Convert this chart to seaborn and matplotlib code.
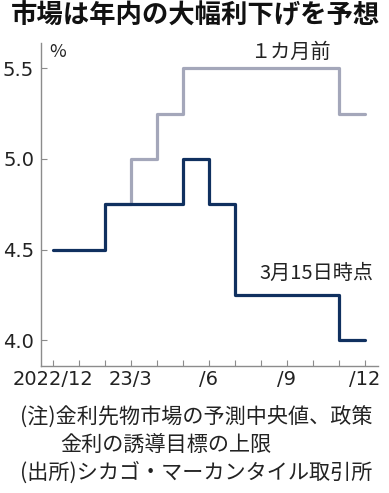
import matplotlib
matplotlib.use("Agg")
import matplotlib.pyplot as plt
import seaborn as sns

# monthly positions, Dec 2022 .. Dec 2023
month_idx = list(range(13))
month_labels = ["2022/12", "", "", "23/3", "", "", "/6", "", "", "/9", "", "", "/12"]

# expected policy rate upper bound (%), step values holding until next month
current_x = list(range(13))
current_rate = [4.5, 4.5, 4.75, 4.75, 4.75, 5.0, 4.75, 4.25, 4.25, 4.25, 4.25, 4.0, 4.0]
month_ago_x = list(range(2, 13))
month_ago_rate = [4.75, 5.0, 5.25, 5.5, 5.5, 5.5, 5.5, 5.5, 5.5, 5.25, 5.25]

y_ticks = [4.0, 4.5, 5.0, 5.5]
y_tick_labels = ["4.0", "4.5", "5.0", "5.5"]

NAVY = "#10305f"
GREY = "#a4a7ba"
AXIS = "#8c8c8c"
W, H = 389, 493

sns.set_style("ticks")
plt.rcParams["font.family"] = ["Noto Sans CJK JP", "DejaVu Sans"]

fig = plt.figure(figsize=(W / 100, H / 100), dpi=100)
ax = fig.add_axes([41 / W, 1 - 366 / H, (378 - 41) / W, (366 - 43) / H])

sns.lineplot(x=month_ago_x, y=month_ago_rate, drawstyle="steps-post", color=GREY, linewidth=2.3, ax=ax)
sns.lineplot(x=current_x, y=current_rate, drawstyle="steps-post", color=NAVY, linewidth=2.3, ax=ax)

ax.set_xlim(-0.46, 12.5)
ax.set_ylim(3.857, 5.64)
ax.set_xticks(month_idx)
ax.set_xticklabels(month_labels)
ax.set_yticks(y_ticks)
ax.set_yticklabels(y_tick_labels)
ax.set_xlabel("")
ax.set_ylabel("")

for side in ["top", "right"]:
    ax.spines[side].set_visible(False)
for side in ["left", "bottom"]:
    ax.spines[side].set_color(AXIS)
    ax.spines[side].set_linewidth(1.0)
ax.tick_params(direction="in", length=4, width=0.8, color=AXIS, labelsize=14, labelcolor="#222222", pad=3)
ax.tick_params(axis="y", pad=5)
for lbl in ax.get_xticklabels() + ax.get_yticklabels():
    lbl.set_fontfamily(["Liberation Sans Narrow", "DejaVu Sans"])

fig.text(196 / W, 1 - 16 / H, "市場は年内の大幅利下げを予想", ha="center", va="center",
         fontsize=19, fontweight="bold", color="#111111")
fig.text(49 / W, 1 - 52 / H, "%", ha="left", va="center", fontsize=13, color="#222222")
fig.text(290 / W, 1 - 52 / H, "１カ月前", ha="center", va="center", fontsize=14.5, color="#222222")
fig.text(316 / W, 1 - 273 / H, "3月15日時点", ha="center", va="center", fontsize=14.5, color="#222222")

fig.text(20 / W, 1 - 418 / H, "(注)金利先物市場の予測中央値、政策", ha="left", va="center", fontsize=15.2, color="#222222")
fig.text(60 / W, 1 - 445 / H, "金利の誘導目標の上限", ha="left", va="center", fontsize=15.2, color="#222222")
fig.text(20 / W, 1 - 473 / H, "(出所)シカゴ・マーカンタイル取引所", ha="left", va="center", fontsize=15.2, color="#222222")

fig.savefig("out.png", dpi=100)
